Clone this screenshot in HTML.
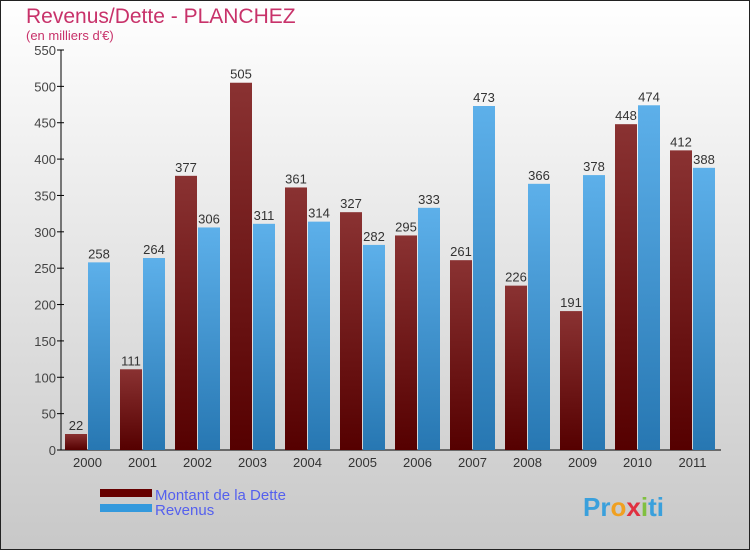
<!DOCTYPE html>
<html><head><meta charset="utf-8"><style>
body{margin:0}
#c{width:750px;height:550px;position:relative;font-family:"Liberation Sans",sans-serif}
</style></head><body>
<div id="c">
<svg width="750" height="550" xmlns="http://www.w3.org/2000/svg" font-family="Liberation Sans, sans-serif">
<defs>
<linearGradient id="bg" x1="0" y1="0" x2="0" y2="1"><stop offset="0" stop-color="#ffffff"/><stop offset="1" stop-color="#c8c8c8"/></linearGradient>
<linearGradient id="gd" x1="0" y1="0" x2="0" y2="1"><stop offset="0" stop-color="#8a3232"/><stop offset="1" stop-color="#550000"/></linearGradient>
<linearGradient id="gr" x1="0" y1="0" x2="0" y2="1"><stop offset="0" stop-color="#5db0ea"/><stop offset="1" stop-color="#2777b2"/></linearGradient>
</defs>
<rect x="0.5" y="0.5" width="749" height="549" fill="url(#bg)" stroke="#222"/>
<text x="26" y="23" font-size="21" fill="#c8326a">Revenus/Dette - PLANCHEZ</text>
<text x="26" y="40" font-size="13" fill="#c8326a">(en milliers d'€)</text>
<g id="plot"></g>
<g>
<rect x="100" y="489" width="52" height="8" fill="#660000"/>
<text x="155" y="500" font-size="15" fill="#5560ee">Montant de la Dette</text>
<rect x="100" y="504" width="52" height="8" fill="#3399dd"/>
<text x="155" y="515" font-size="15" fill="#5560ee">Revenus</text>
</g>
<text x="583" y="516" font-size="26" font-weight="bold"><tspan fill="#3aa0dc">Pr</tspan><tspan fill="#f0a020">o</tspan><tspan fill="#e03040">x</tspan><tspan fill="#80c040">i</tspan><tspan fill="#3aa0dc">ti</tspan></text>
</svg>
</div>
<script>
const categories=["2000","2001","2002","2003","2004","2005","2006","2007","2008","2009","2010","2011"];
const dette=[22,111,377,505,361,327,295,261,226,191,448,412];
const revenus=[258,264,306,311,314,282,333,473,366,378,474,388];
const yTicks=[0,50,100,150,200,250,300,350,400,450,500,550];
const NS="http://www.w3.org/2000/svg";
const g=document.getElementById('plot');
const x0=61,x1=721,yBase=450,yTop=50,yMax=550;
const y=v=>yBase-(v/yMax)*(yBase-yTop);
const gw=(x1-x0)/categories.length;
function el(t,a,txt){const e=document.createElementNS(NS,t);for(const k in a)e.setAttribute(k,a[k]);if(txt!==undefined)e.textContent=txt;g.appendChild(e);return e;}
let ax=el('line',{x1:x0,y1:yTop,x2:x0,y2:yBase,stroke:'#000'});


let bx=el('line',{x1:x0,y1:yBase,x2:x1,y2:yBase,stroke:'#000'});


yTicks.forEach(v=>{
 let t=el('line',{x1:x0-4,y1:y(v),x2:x0+3,y2:y(v),stroke:'#000'});
 
 
 let l=el('text',{x:x0-5,y:y(v)+5,'font-size':13,fill:'#444','text-anchor':'end'},v);
 
 
});
categories.forEach((c,i)=>{
 const gx=x0+i*gw;
 const xd=gx+4,xr=gx+27,bw=22;
 let b1=el('rect',{x:xd,y:y(dette[i]),width:bw,height:yBase-y(dette[i]),fill:'url(#gd)'});
 
 
 let b2=el('rect',{x:xr,y:y(revenus[i]),width:bw,height:yBase-y(revenus[i]),fill:'url(#gr)'});
 
 
 let l1=el('text',{x:xd+bw/2,y:y(dette[i])-4,'font-size':13,fill:'#333','text-anchor':'middle'},dette[i]);
 
 
 let l2=el('text',{x:xr+bw/2,y:y(revenus[i])-4,'font-size':13,fill:'#333','text-anchor':'middle'},revenus[i]);
 
 
 let xl=el('text',{x:gx+gw/2-1,y:467,'font-size':13,fill:'#333','text-anchor':'middle'},c);
 
 
});
</script>
</body></html>
